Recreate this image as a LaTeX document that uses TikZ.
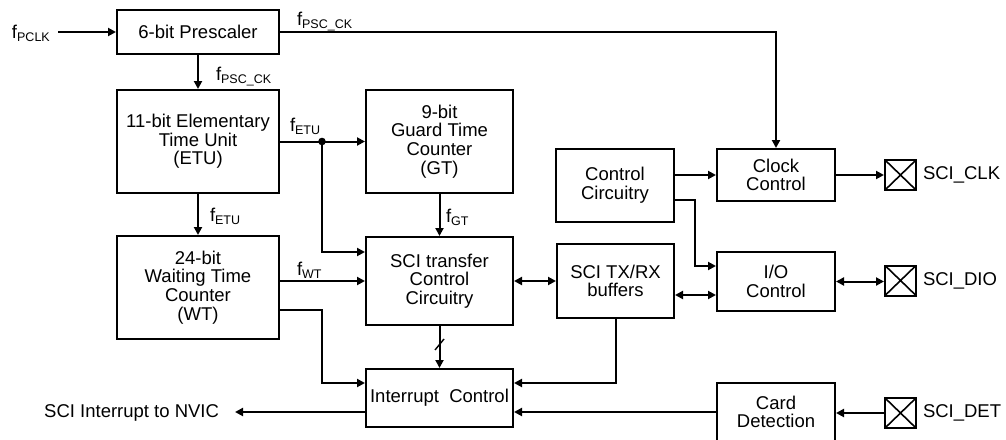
\documentclass[tikz,border=0pt]{standalone}
\usepackage{fontspec}
\setmainfont{Liberation Sans}
\usetikzlibrary{arrows.meta}
\newcommand\fsb[1]{f\raisebox{-0.35ex}{\fontsize{12.5}{13}\selectfont #1}}
\begin{document}
\begin{tikzpicture}[x=1pt,y=-1pt,
  font=\fontsize{18.5}{18.7}\selectfont,
  line width=2pt,
  blk/.style={draw, align=center, inner sep=0pt},
  lbl/.style={inner sep=0pt, anchor=base west},
  arr/.style={-{Triangle[length=8pt,width=8pt]}},
  darr/.style={{Triangle[length=8pt,width=8pt]}-{Triangle[length=8pt,width=8pt]}},
  pad/.style={draw, minimum width=31pt, minimum height=30pt, inner sep=0pt,
    path picture={\draw[line width=1.6pt] (path picture bounding box.north west) -- (path picture bounding box.south east)
      (path picture bounding box.south west) -- (path picture bounding box.north east);}}]
\useasboundingbox (0,0) rectangle (1006,439);
% blocks
\node[blk, minimum width=162pt, minimum height=44pt] (pre) at (198,32) {6-bit Prescaler};
\node[blk, minimum width=162pt, minimum height=103pt] (etu) at (198,141.5) {11-bit Elementary\\Time Unit\\(ETU)};
\node[blk, minimum width=147pt, minimum height=103pt] (gt) at (439.5,141.5) {9-bit\\Guard Time\\Counter\\(GT)};
\node[blk, minimum width=162pt, minimum height=103pt] (wt) at (198,287.5) {24-bit\\Waiting Time\\Counter\\(WT)};
\node[blk, minimum width=147pt, minimum height=88pt] (sci) at (439.5,281) {SCI transfer\\Control\\Circuitry};
\node[blk, minimum width=117pt, minimum height=74pt] (buf) at (615.5,281) {SCI TX/RX\\buffers};
\node[blk, minimum width=147pt, minimum height=58pt] (intr) at (439.5,398) {Interrupt\ \ Control};
\node[blk, minimum width=118pt, minimum height=73pt] (ctrl) at (615,185.5) {Control\\Circuitry};
\node[blk, minimum width=118pt, minimum height=52pt] (clk) at (776,175) {Clock\\Control};
\node[blk, minimum width=118pt, minimum height=59pt] (io) at (776,281.5) {I/O\\Control};
\node[blk, minimum width=118pt, minimum height=58pt] (card) at (776,412) {Card\\Detection};
% pads
\node[pad] (clkpad) at (900.5,175) {};
\node[pad] (diopad) at (900.5,280.5) {};
\node[pad] (detpad) at (900.5,413) {};
\node[anchor=west, inner sep=0pt] (clklbl) at (922,175) {SCI\_CLK};
\node[anchor=west, inner sep=0pt] (diolbl) at (922,281) {SCI\_DIO};
\node[anchor=west, inner sep=0pt] (detlbl) at (922,413) {SCI\_DET};
% labels
\node[lbl] (lpclk) at (11,38) {\fsb{PCLK}};
\node[lbl] (lpsc1) at (296,25) {\fsb{PSC\_CK}};
\node[lbl] (lpsc2) at (215,80) {\fsb{PSC\_CK}};
\node[lbl] (letu1) at (289,131) {\fsb{ETU}};
\node[lbl] (letu2) at (209,221) {\fsb{ETU}};
\node[lbl] (lgt) at (445,222) {\fsb{GT}};
\node[lbl] (lwt) at (296,275) {\fsb{WT}};
\node[anchor=east, inner sep=0pt] (nvic) at (220,413) {SCI Interrupt to NVIC};
% helper coordinates
\coordinate (pin) at (58,32);
\coordinate (dot) at (322,141.5);
\coordinate (y252) at (0,252);
\coordinate (y310) at (0,310);
\coordinate (y383) at (0,383);
\coordinate (y200) at (0,200);
\coordinate (y266) at (0,266);
\coordinate (y295) at (0,295);
\coordinate (x322) at (322,0);
\coordinate (x695) at (695,0);
% connectors
\draw[arr] (pin) -- (pre.west);
\draw[arr] (pre.east) -| (clk.north);
\draw[arr] (pre) -- (etu);
\draw[arr] (etu.east) -- (gt.west);
\fill (dot) circle (3.8pt);
\draw[arr] (dot) |- (sci.west |- y252);
\draw[arr] (gt) -- (sci);
\draw[arr] (etu) -- (wt);
\draw[arr] (wt.east |- sci.west) -- (sci.west);
\draw[arr] (wt.east |- y310) -- (x322 |- y310) |- (intr.west |- y383);
\draw[darr] (sci.east) -- (buf.west);
\draw[arr] (sci) -- (intr);
\draw[line width=1.4pt] (435,350) -- (444,339);
\draw[arr] (buf.south) |- (intr.east |- y383);
\draw[arr] (card.west) -- (intr.east |- card.west);
\draw[arr, shorten >=15pt] (intr.west |- card.west) -- (nvic.east |- card.west);
\draw[arr] (ctrl.east |- clk.west) -- (clk.west);
\draw[arr] (ctrl.east |- y200) -- (x695 |- y200) |- (io.west |- y266);
\draw[darr] (buf.east |- y295) -- (io.west |- y295);
\draw[arr] (clk.east) -- (clkpad.west);
\draw[darr] (io.east) -- (io.east -| diopad.west);
\draw[arr] (detpad.west) -- (card.east |- detpad.west);
\end{tikzpicture}
\end{document}
